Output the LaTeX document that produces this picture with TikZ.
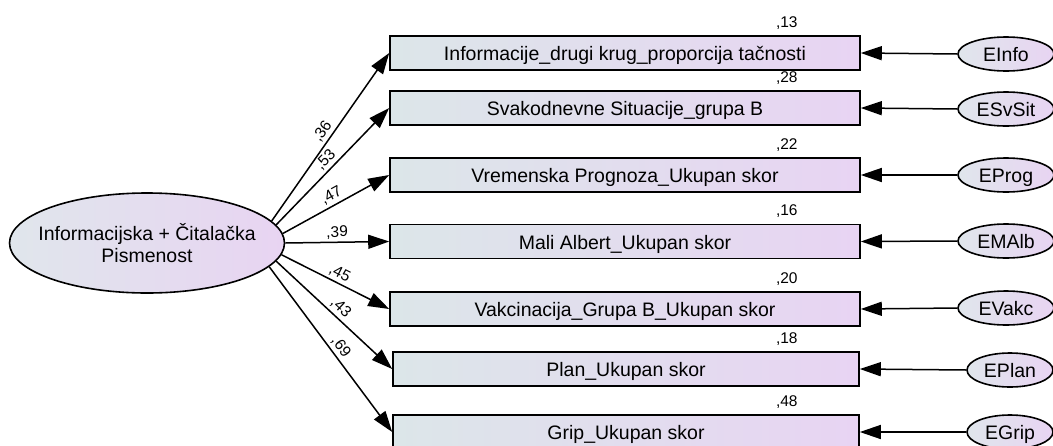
\documentclass[tikz,border=0pt]{standalone}
\usepackage{fontspec}
\setmainfont{Liberation Sans}
\usetikzlibrary{arrows.meta,shapes.geometric,calc}
\definecolor{gl}{HTML}{DCE6E9}
\definecolor{gr}{HTML}{E8D4F3}
\definecolor{el}{HTML}{E0E6EC}
\definecolor{er}{HTML}{E8D4F2}
\begin{document}
\begin{tikzpicture}[x=1pt,y=-1pt,
  obs/.style={draw, line width=1.6pt, rectangle, minimum width=470pt, minimum height=34pt,
    inner sep=0pt, left color=gl, right color=gr, text height=15pt, text depth=0pt,
    font=\fontsize{19.5}{23}\selectfont},
  latent/.style={draw, ellipse, line width=1.6pt, minimum width=275pt, minimum height=100pt,
    inner xsep=-15pt, inner ysep=0pt, left color=el, right color=er, align=center,
    font=\fontsize{19.5}{22}\selectfont},
  errv/.style={draw, ellipse, line width=1.6pt, minimum height=34pt, inner sep=0pt,
    left color=el, right color=er, text height=15pt, text depth=0pt,
    font=\fontsize{19.5}{23}\selectfont},
  arr/.style={line width=1.5pt, -{Triangle[length=21pt,width=14pt]}},
  coef/.style={font=\fontsize{15.5}{18}\selectfont, sloped, above=2pt, pos=0.5, inner sep=0.5pt},
  rsq/.style={font=\fontsize{15.5}{18}\selectfont, anchor=base, inner sep=0pt}
]
\useasboundingbox (0,0) rectangle (1053,445);

% latent
\node[latent] (lat) at (147,243) {Informacijska + Čitalačka\\Pismenost};

% observed
\node[obs] (b1) at (625,53) {Informacije\_drugi krug\_proporcija tačnosti};
\node[obs] (b2) at (625,108) {Svakodnevne Situacije\_grupa B};
\node[obs] (b3) at (625,175) {Vremenska Prognoza\_Ukupan skor};
\node[obs] (b4) at (625,241.5) {Mali Albert\_Ukupan skor};
\node[obs] (b5) at (625,309) {Vakcinacija\_Grupa B\_Ukupan skor};
\node[obs, minimum width=466pt] (b6) at (626,369) {Plan\_Ukupan skor};
\node[obs, minimum width=466pt] (b7) at (626,432) {Grip\_Ukupan skor};

% errors
\node[errv, minimum width=96pt] (e1) at (1006,54) {EInfo};
\node[errv, minimum width=96pt] (e2) at (1006,109) {ESvSit};
\node[errv, minimum width=96pt] (e3) at (1006,175) {EProg};
\node[errv, minimum width=96pt] (e4) at (1006,241) {EMAlb};
\node[errv, minimum width=96pt] (e5) at (1006,308) {EVakc};
\node[errv, minimum width=86pt] (e6) at (1010,370) {EPlan};
\node[errv, minimum width=86pt] (e7) at (1010,432) {EGrip};

% squared multiple correlations
\node[rsq] (r1) at ($(b1.north east)+(-74,-8)$) {,13};
\node[rsq] (r2) at ($(b2.north east)+(-74,-8)$) {,28};
\node[rsq] (r3) at ($(b3.north east)+(-74,-8)$) {,22};
\node[rsq] (r4) at ($(b4.north east)+(-74,-8)$) {,16};
\node[rsq] (r5) at ($(b5.north east)+(-74,-8)$) {,20};
\node[rsq] (r6) at ($(b6.north east)+(-73,-8)$) {,18};
\node[rsq] (r7) at ($(b7.north east)+(-73,-8)$) {,48};

% loadings
\draw[arr] (lat.10.6) -- node[coef] {,36} (b1.west);
\draw[arr] (lat.8) -- node[coef] {,53} (b2.west);
\draw[arr] (lat.4.2) -- node[coef] {,47} (b3.west);
\draw[arr] (lat.0) -- node[coef] {,39} (b4.west);
\draw[arr] (lat.-5) -- node[coef] {,45} (b5.west);
\draw[arr] (lat.-8.7) -- node[coef] {,43} (b6.west);
\draw[arr] (lat.-11.3) -- node[coef, pos=0.52] {,69} (b7.west);

% error paths
\foreach \i in {1,...,7} {
  \draw[arr] (e\i.west) -- (b\i.east);
}
\end{tikzpicture}
\end{document}
